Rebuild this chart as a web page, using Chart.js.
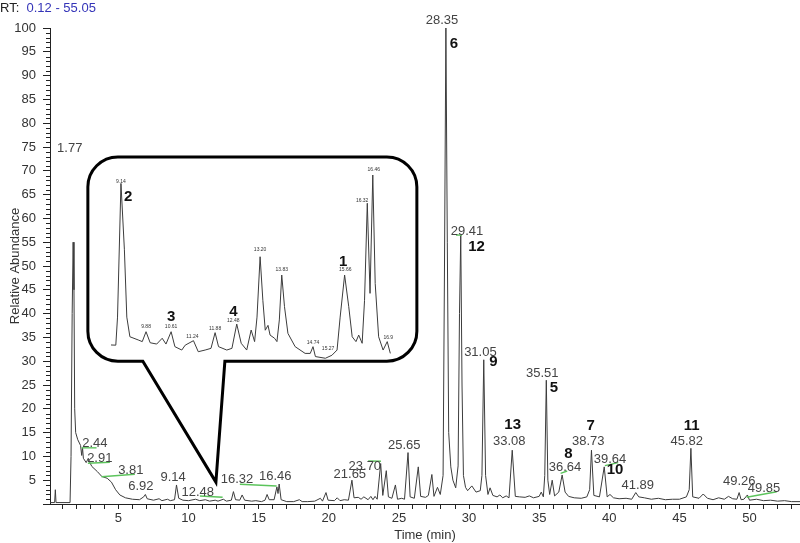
<!DOCTYPE html>
<html>
<head>
<meta charset="utf-8">
<script src="https://cdn.jsdelivr.net/npm/chart.js@4.4.0/dist/chart.umd.min.js"></script>
<style>
  html, body { margin: 0; padding: 0; background: #fff; overflow: hidden; }
  #wrap { position: relative; width: 800px; height: 543px; }
  #main { position: absolute; left: 0; top: 0; }
  #inset { position: absolute; left: 100px; top: 160px; }
  #rt { position: absolute; left: 0; top: 0; font: 13px "Liberation Sans", Arial, sans-serif; color: #222; }
  #rt span { color: #3434b8; }
</style>
</head>
<body>
<div id="wrap">
  <canvas id="main" width="800" height="543"></canvas>
  <canvas id="inset" width="310" height="210"></canvas>
  <div id="rt">RT:&nbsp; <span>0.12 - 55.05</span></div>
</div>
<script>
// main chromatogram
const mainRT = [0.12, 0.45, 0.50, 0.55, 1.55, 1.62, 1.70, 1.77, 1.83, 1.88, 1.95, 2.10, 2.30, 2.38, 2.44, 2.50, 2.70, 2.85, 2.91, 3.10,
  3.50, 3.81, 4.20, 4.50, 4.80, 5.10, 5.50, 6.00, 6.50, 6.80, 6.92, 7.05, 7.50, 7.90, 8.10, 8.50, 8.70, 9.00, 9.14, 9.30,
  9.60, 10.00, 10.50, 10.80, 11.20, 11.50, 11.90, 12.10, 12.48, 12.70, 13.05, 13.20, 13.35, 13.65, 13.82, 14.00, 14.50, 14.80, 15.20, 15.45,
  15.60, 15.75, 16.10, 16.30, 16.38, 16.46, 16.60, 17.00, 17.50, 17.90, 18.10, 18.50, 19.00, 19.40, 19.55, 19.80, 19.95, 20.40, 20.60, 20.80,
  21.10, 21.40, 21.65, 21.80, 22.10, 22.30, 22.50, 22.80, 23.00, 23.15, 23.30, 23.45, 23.70, 23.85, 24.10, 24.25, 24.50, 24.75, 24.90, 25.20,
  25.40, 25.65, 25.80, 26.10, 26.38, 26.55, 26.90, 27.10, 27.35, 27.50, 27.75, 27.95, 28.15, 28.25, 28.35, 28.45, 28.55, 28.70, 28.85, 29.05,
  29.22, 29.32, 29.41, 29.50, 29.60, 29.75, 29.90, 30.20, 30.50, 30.80, 30.92, 31.05, 31.18, 31.35, 31.50, 31.70, 32.00, 32.20, 32.40, 32.65,
  32.85, 33.08, 33.30, 33.60, 34.00, 34.30, 34.60, 35.00, 35.15, 35.30, 35.40, 35.51, 35.62, 35.75, 35.93, 36.10, 36.40, 36.64, 36.85, 37.10,
  37.50, 38.00, 38.40, 38.60, 38.73, 38.90, 39.30, 39.64, 39.85, 40.05, 40.30, 40.70, 41.20, 41.60, 41.89, 42.10, 42.50, 43.00, 43.50, 44.00,
  44.50, 45.00, 45.50, 45.70, 45.82, 45.95, 46.40, 46.70, 47.00, 47.40, 47.80, 48.20, 48.50, 48.80, 49.10, 49.26, 49.40, 49.60, 49.85, 50.00,
  50.50, 51.00, 51.50, 52.00, 52.50, 53.00, 53.60];
const mainAbund = [0.3, 0.3, 3.0, 0.3, 0.3, 10, 40, 55, 45, 20, 15, 13.5, 12.3, 10.2, 11.8, 9.6, 8.7, 9.6, 9.0, 7.9,
  6.8, 5.8, 5.4, 4.6, 3.0, 1.9, 1.3, 1.0, 0.9, 1.5, 2.0, 1.1, 0.8, 1.1, 0.7, 1.0, 0.7, 0.9, 4.0, 1.2,
  0.8, 0.7, 1.0, 0.7, 0.9, 0.6, 0.8, 0.6, 1.0, 0.6, 0.8, 2.6, 0.9, 0.8, 1.9, 0.8, 0.6, 0.7, 0.5, 0.8,
  2.0, 0.9, 0.9, 3.6, 2.2, 4.2, 0.9, 0.5, 0.5, 0.9, 0.5, 0.5, 0.6, 1.2, 0.6, 2.4, 0.8, 0.7, 1.3, 0.7,
  0.9, 0.8, 5.0, 1.3, 1.4, 1.0, 1.5, 0.9, 1.6, 0.9, 1.6, 1.0, 8.5, 1.8, 7.0, 1.5, 1.2, 4.0, 1.0, 1.2,
  1.0, 10.8, 1.5, 1.2, 7.8, 1.6, 1.4, 1.8, 6.2, 1.6, 3.5, 2.0, 6.0, 50, 100, 55, 15, 7.8, 5.0, 3.4,
  8.0, 40, 56.5, 25, 6.0, 3.5, 2.8, 3.8, 2.5, 2.8, 6.0, 30.3, 6.0, 2.0, 3.4, 1.8, 1.5, 1.9, 1.3, 1.7,
  1.3, 11.3, 1.6, 1.5, 1.4, 1.7, 1.3, 1.6, 2.5, 1.5, 6.0, 26, 5.0, 2.0, 5.0, 1.7, 2.5, 6.1, 2.5, 1.6,
  1.3, 1.2, 1.5, 3.0, 11.3, 1.8, 1.5, 7.8, 1.5, 2.0, 1.3, 1.1, 1.2, 1.0, 2.4, 1.5, 1.3, 1.0, 1.2, 0.9,
  1.0, 1.0, 1.5, 3.0, 11.7, 1.5, 1.2, 2.1, 1.2, 0.9, 1.3, 1.0, 1.6, 1.1, 1.0, 2.4, 0.9, 1.0, 1.9, 0.8,
  1.0, 0.7, 0.8, 0.6, 0.7, 0.5, 0.5];

// zoomed window 8.85 - 17.0 min shown in the callout
const insetRT = [8.85, 8.99, 9.04, 9.14, 9.24, 9.31, 9.40, 9.64, 9.76, 9.87, 9.99, 10.18, 10.34, 10.45, 10.60, 10.71, 10.91, 11.01, 11.25, 11.39,
  11.59, 11.76, 11.88, 11.98, 12.22, 12.37, 12.51, 12.64, 12.80, 12.93, 13.03, 13.10, 13.19, 13.27, 13.34, 13.42, 13.48, 13.61, 13.68, 13.75,
  13.82, 13.90, 14.00, 14.21, 14.50, 14.65, 14.73, 14.80, 15.09, 15.28, 15.43, 15.52, 15.65, 15.77, 15.87, 15.98, 16.06, 16.16, 16.23, 16.31,
  16.39, 16.47, 16.54, 16.64, 16.77, 16.89, 16.98];
const insetAbund = [9.1, 9.0, 24, 95.5, 60, 24, 13.5, 11.8, 10.9, 16.2, 10.3, 9.6, 12.7, 9.6, 16.2, 8.2, 6.4, 9.0, 11.4, 5.5,
  6.4, 7.3, 15.7, 8.2, 6.4, 7.3, 20.3, 10.0, 6.4, 17.1, 10.9, 24, 56.3, 33, 17, 19.6, 14.4, 12.7, 10.9, 22.5,
  46.5, 29.6, 15.3, 8.2, 4.6, 4.6, 8.2, 2.9, 2.0, 3.6, 6.4, 24, 46.5, 29.6, 13.5, 10.9, 14.4, 10.0, 33, 84.9,
  36.7, 100, 42, 13.5, 6.4, 10.9, 4.6];

// retention time labels
const peakText = ['1.77', '2.44', '2.91', '3.81', '6.92', '9.14', '12.48', '16.32', '16.46', '21.65', '23.70', '25.65',
  '28.35', '29.41', '31.05', '33.08', '35.51', '36.64', '38.73', '39.64', '41.89', '45.82', '49.26', '49.85'];
const peakLabelRT = [1.53, 3.32, 3.67, 5.88, 6.60, 8.90, 10.66, 13.45, 16.18, 21.50, 22.57, 25.38,
  28.07, 29.85, 30.81, 32.87, 35.22, 36.84, 38.50, 40.05, 42.03, 45.52, 49.27, 51.03];
const peakLabelAbund = [74.8, 12.75, 9.6, 7.14, 3.63, 5.6, 2.46, 5.19, 5.74, 6.3, 7.98, 12.4,
  101.5, 57.2, 31.8, 13.1, 27.5, 7.6, 13.1, 9.4, 4.0, 13.1, 4.7, 3.3];

// compound numbers
const compoundId = ['6', '12', '9', '13', '5', '8', '7', '10', '11'];
const compoundRT = [28.92, 30.54, 31.73, 33.11, 36.06, 37.08, 38.67, 40.41, 45.88];
const compoundAbund = [96.6, 54.1, 29.9, 16.6, 24.3, 10.5, 16.4, 7.1, 16.4];

// green leader lines [rt1, ab1, rt2, ab2]
const leaders = [
  [2.37, 11.8, 3.44, 11.8], [2.82, 8.55, 4.39, 8.76], [3.79, 5.74, 6.17, 6.24], [10.81, 1.68, 12.43, 1.41],
  [13.66, 4.14, 16.28, 3.78], [22.81, 9.03, 23.72, 8.97], [29.07, 56.5, 29.5, 56.5], [36.53, 6.45, 37.0, 6.93],
  [39.69, 8.05, 40.64, 8.68], [49.8, 1.41, 51.94, 2.58]
];

// callout labels
const insetText = ['9.14', '9.88', '10.61', '11.24', '11.88', '12.48', '13.20', '13.83', '14.74', '15.27', '15.66', '16.32', '16.46', '16.9'];
const insetLabelRT = [9.14, 9.87, 10.60, 11.22, 11.88, 12.41, 13.19, 13.82, 14.73, 15.17, 15.67, 16.16, 16.50, 16.92];
const insetLabelAbund = [96.4, 18.9, 18.9, 13.5, 18.0, 21.9, 59.9, 49.2, 10.3, 7.0, 49.2, 86.3, 103, 13.2];
const insetId = ['2', '3', '4', '1'];
const insetIdRT = [9.35, 10.60, 12.41, 15.61];
const insetIdAbund = [88.4, 24.2, 26.9, 53.6];

// callout box in chart units: left, right, top, bottom, tail base left/right, tail tip
const box = { l: 2.82, r: 26.28, t: 72.9, b: 30.0, tailA: 6.74, tailB: 12.59, tipRT: 11.95, tipAb: 4.6 };

const FONT = '"Liberation Sans", Arial, sans-serif';

function zip(a, b) {
  return a.map((v, i) => ({ x: v, y: b[i] }));
}

const mainPlugin = {
  id: 'annot',
  afterDatasetsDraw(chart) {
    const ctx = chart.ctx;
    const xs = chart.scales.x, ys = chart.scales.y;
    ctx.save();
    // minor y ticks
    ctx.strokeStyle = '#222';
    ctx.lineWidth = 1;
    ctx.beginPath();
    for (let v = 1; v < 100; v++) {
      if (v % 5 === 0) continue;
      const py = Math.round(ys.getPixelForValue(v)) + 0.5;
      ctx.moveTo(xs.left - 4, py);
      ctx.lineTo(xs.left, py);
    }
    ctx.stroke();

    // green leaders
    ctx.strokeStyle = '#5cc45c';
    ctx.lineWidth = 1.4;
    leaders.forEach(l => {
      ctx.beginPath();
      ctx.moveTo(xs.getPixelForValue(l[0]), ys.getPixelForValue(l[1]));
      ctx.lineTo(xs.getPixelForValue(l[2]), ys.getPixelForValue(l[3]));
      ctx.stroke();
    });

    ctx.textAlign = 'center';
    ctx.textBaseline = 'middle';
    ctx.fillStyle = '#444';
    ctx.font = '13px ' + FONT;
    peakText.forEach((t, i) => {
      ctx.fillText(t, xs.getPixelForValue(peakLabelRT[i]), ys.getPixelForValue(peakLabelAbund[i]));
    });
    ctx.fillStyle = '#111';
    ctx.font = 'bold 15px ' + FONT;
    compoundId.forEach((t, i) => {
      ctx.fillText(t, xs.getPixelForValue(compoundRT[i]), ys.getPixelForValue(compoundAbund[i]));
    });

    // callout box with tail
    const L = xs.getPixelForValue(box.l), R = xs.getPixelForValue(box.r);
    const T = ys.getPixelForValue(box.t), B = ys.getPixelForValue(box.b);
    const A = xs.getPixelForValue(box.tailA), Bx = xs.getPixelForValue(box.tailB);
    const tx = xs.getPixelForValue(box.tipRT), ty = ys.getPixelForValue(box.tipAb);
    const r = 30;
    ctx.beginPath();
    ctx.moveTo(L + r, T);
    ctx.lineTo(R - r, T);
    ctx.arcTo(R, T, R, T + r, r);
    ctx.lineTo(R, B - r);
    ctx.arcTo(R, B, R - r, B, r);
    ctx.lineTo(Bx, B);
    ctx.lineTo(tx, ty);
    ctx.lineTo(A, B);
    ctx.lineTo(L + r, B);
    ctx.arcTo(L, B, L, B - r, r);
    ctx.lineTo(L, T + r);
    ctx.arcTo(L, T, L + r, T, r);
    ctx.closePath();
    ctx.fillStyle = '#fff';
    ctx.fill();
    ctx.strokeStyle = '#000';
    ctx.lineWidth = 3;
    ctx.lineJoin = 'miter';
    ctx.stroke();
    ctx.restore();
  }
};

new Chart(document.getElementById('main'), {
  type: 'line',
  data: {
    datasets: [{
      data: zip(mainRT, mainAbund),
      borderColor: '#3c3c3c',
      borderWidth: 1,
      pointRadius: 0,
      tension: 0,
      fill: false
    }]
  },
  options: {
    responsive: false,
    animation: false,
    devicePixelRatio: 1,
    layout: { padding: { top: 28, right: 0, left: 0, bottom: 0 } },
    plugins: { legend: { display: false }, tooltip: { enabled: false } },
    scales: {
      x: {
        type: 'linear',
        min: 0.12,
        max: 53.6,
        afterBuildTicks(scale) {
          const t = [];
          for (let i = 1; i <= 53; i++) t.push({ value: i });
          scale.ticks = t;
        },
        afterFit(scale) { scale.height = 39; },
        grid: { drawOnChartArea: false, tickLength: 5, color: '#222' },
        border: { color: '#222', width: 1 },
        ticks: {
          autoSkip: false,
          maxRotation: 0,
          padding: 2,
          color: '#333',
          font: { family: FONT, size: 13 },
          callback: v => (v % 5 === 0 ? String(v) : '')
        },
        title: { display: true, text: 'Time (min)', color: '#333', font: { family: FONT, size: 13 }, padding: { top: 0, bottom: 0 } }
      },
      y: {
        min: 0,
        max: 100,
        afterFit(scale) { scale.width = 50; },
        grid: { drawOnChartArea: false, tickLength: 7, color: '#222' },
        border: { color: '#222', width: 1 },
        ticks: {
          stepSize: 5,
          padding: 7,
          color: '#333',
          font: { family: FONT, size: 13 },
          callback: v => (v === 0 ? '' : String(v))
        },
        title: { display: true, text: 'Relative Abundance', color: '#333', font: { family: FONT, size: 13 }, padding: { top: 8, bottom: 0 } }
      }
    }
  },
  plugins: [mainPlugin]
});

const insetPlugin = {
  id: 'insetLabels',
  afterDatasetsDraw(chart) {
    const ctx = chart.ctx;
    const xs = chart.scales.x, ys = chart.scales.y;
    ctx.save();
    ctx.textAlign = 'center';
    ctx.textBaseline = 'middle';
    ctx.fillStyle = '#333';
    ctx.font = '5px ' + FONT;
    insetText.forEach((t, i) => {
      ctx.fillText(t, xs.getPixelForValue(insetLabelRT[i]), ys.getPixelForValue(insetLabelAbund[i]));
    });
    ctx.fillStyle = '#111';
    ctx.font = 'bold 15px ' + FONT;
    insetId.forEach((t, i) => {
      ctx.fillText(t, xs.getPixelForValue(insetIdRT[i]), ys.getPixelForValue(insetIdAbund[i]));
    });
    ctx.restore();
  }
};

new Chart(document.getElementById('inset'), {
  type: 'line',
  data: {
    datasets: [{
      data: zip(insetRT, insetAbund),
      borderColor: '#3c3c3c',
      borderWidth: 1,
      pointRadius: 0,
      tension: 0,
      clip: false
    }]
  },
  options: {
    responsive: false,
    animation: false,
    devicePixelRatio: 1,
    layout: { padding: { left: 11, top: 15, right: 19, bottom: 8 } },
    plugins: { legend: { display: false }, tooltip: { enabled: false } },
    scales: {
      x: { type: 'linear', display: false, min: 8.85, max: 17.0 },
      y: { display: false, min: 0, max: 100 }
    }
  },
  plugins: [insetPlugin]
});
</script>
</body>
</html>
